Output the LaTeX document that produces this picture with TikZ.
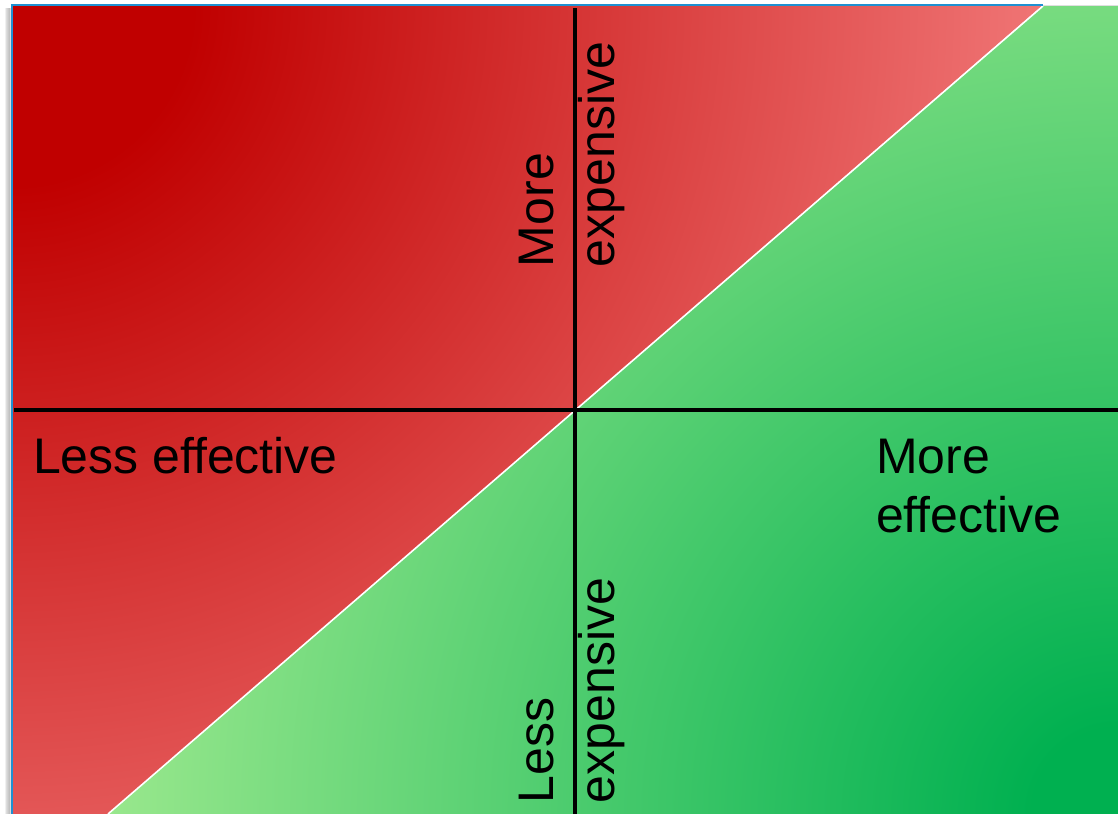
\documentclass[tikz,border=0pt]{standalone}
\usepackage{fontspec}
\setmainfont{Liberation Sans}
\definecolor{rA}{HTML}{C00000}
\definecolor{rB}{HTML}{F07676}
\definecolor{gA}{HTML}{00B050}
\definecolor{gB}{HTML}{9AE88D}
\definecolor{gC}{HTML}{B8F0A8}
\definecolor{edgeblue}{HTML}{1E90D2}
\pgfdeclareradialshading{redrad}{\pgfpointorigin}{color(0pt)=(rA); color(135pt)=(rA); color(780pt)=(rB); color(1050pt)=(rB)}
\pgfdeclareradialshading{greenrad}{\pgfpointorigin}{color(0pt)=(gA); color(64pt)=(gA); color(765pt)=(gB); color(1050pt)=(gC)}
\tikzset{
  axisline/.style={line width=2.3pt, black},
  lbl/.style={inner sep=0pt, outer sep=0pt, anchor=base west, font=\fontsize{37.5}{44}\selectfont},
  vlbl/.style={lbl, rotate=90},
}
\begin{document}
\begin{tikzpicture}[x=0.75pt, y=-0.75pt]
\useasboundingbox (0,0) rectangle (1118,814);
\fill[white] (0,0) rectangle (1118,814);
% soft shadow on the left
\foreach \i/\o in {1/0.06,2/0.08,3/0.10,4/0.12,5/0.14} {
  \draw[line width=0.9pt, black, opacity=\o] (5+\i,8) -- (5+\i,814);
}
% red region
\begin{scope}
  \clip (12,5) -- (1043,5) -- (108,814) -- (12,814) -- cycle;
  \node[inner sep=0pt, outer sep=0pt] at (12,5) {\pgfuseshading{redrad}};
\end{scope}
% green region
\begin{scope}
  \clip (108,814) -- (1043,6) -- (1118,6) -- (1118,814) -- cycle;
  \node[inner sep=0pt, outer sep=0pt] at (1118,814) {\pgfuseshading{greenrad}};
\end{scope}
\coordinate (dA) at (108,814);
\coordinate (dB) at (1043,6);
\draw[white, line width=1.2pt] (dA) -- (dB);
% edges
\coordinate (tl) at (12,5);
\coordinate (bl) at (12,814);
\coordinate (tr) at (1043,5);
\draw[edgeblue, line width=2pt] (bl) -- (tl) -- (tr);
\draw[gray!25, line width=1pt] (1043,5.5) -- (1118,5.5);
% axes
\coordinate (vt) at (575,8);
\coordinate (vb) at (575,814);
\coordinate (hl) at (14,410);
\coordinate (hr) at (1118,410);
\draw[axisline] (vt) -- (vb);
\draw[axisline] (hl) -- (hr);
% labels
\node[lbl] (lesseff) at (33,473) {Less effective};
\node[lbl] (moreeff1) at (876,473) {More};
\node[lbl] (moreeff2) at (876,532) {effective};
\node[vlbl] (moreexp1) at (553,267) {More};
\node[vlbl] (moreexp2) at (614,267) {expensive};
\node[vlbl] (lessexp1) at (553,803) {Less};
\node[vlbl] (lessexp2) at (614,803) {expensive};
\end{tikzpicture}
\end{document}
